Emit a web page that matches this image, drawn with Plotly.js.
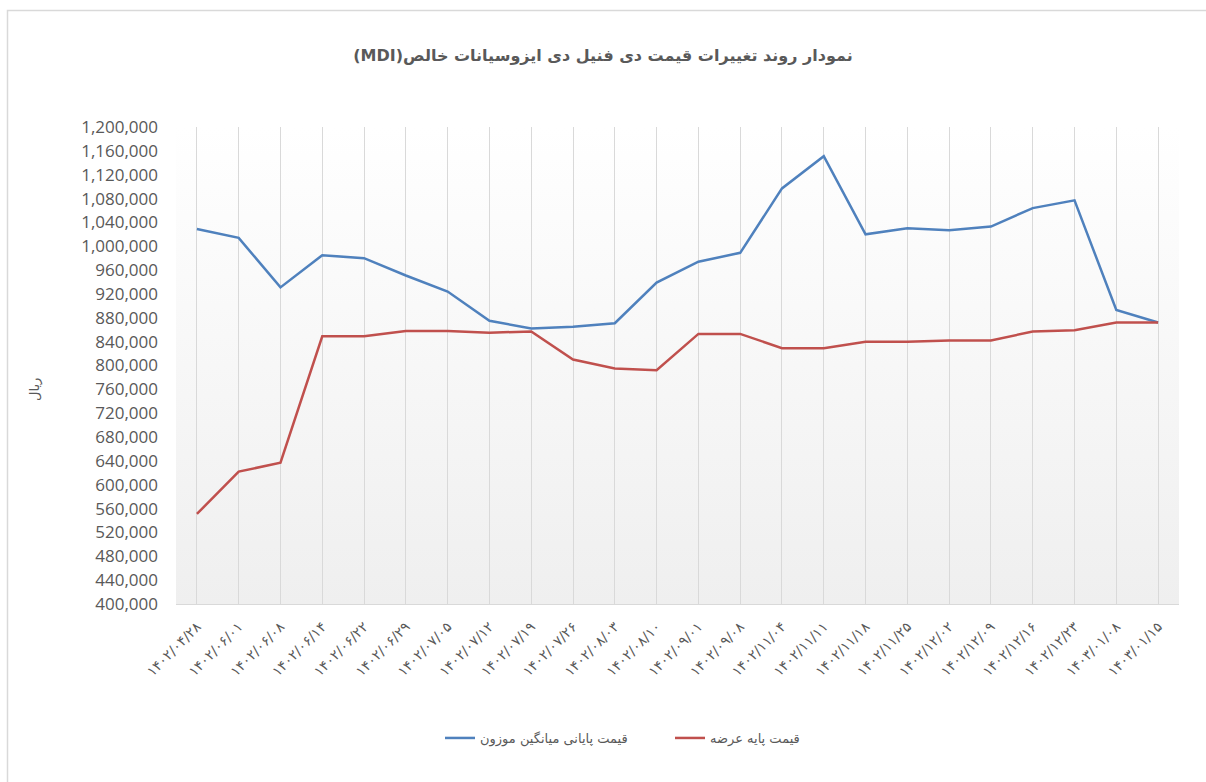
<!DOCTYPE html>
<html>
<head>
<meta charset="utf-8">
<script src="https://cdn.plot.ly/plotly-3.0.1.min.js"></script>
<style>
html,body{margin:0;padding:0;background:#fff;}
#chart{width:1206px;height:782px;}
</style>
</head>
<body>
<div id="chart"></div>
<script>
const dates = ['۱۴۰۲/۰۴/۲۸','۱۴۰۲/۰۶/۰۱','۱۴۰۲/۰۶/۰۸','۱۴۰۲/۰۶/۱۴','۱۴۰۲/۰۶/۲۲','۱۴۰۲/۰۶/۲۹','۱۴۰۲/۰۷/۰۵','۱۴۰۲/۰۷/۱۲','۱۴۰۲/۰۷/۱۹','۱۴۰۲/۰۷/۲۶','۱۴۰۲/۰۸/۰۳','۱۴۰۲/۰۸/۱۰','۱۴۰۲/۰۹/۰۱','۱۴۰۲/۰۹/۰۸','۱۴۰۲/۱۱/۰۴','۱۴۰۲/۱۱/۱۱','۱۴۰۲/۱۱/۱۸','۱۴۰۲/۱۱/۲۵','۱۴۰۲/۱۲/۰۲','۱۴۰۲/۱۲/۰۹','۱۴۰۲/۱۲/۱۶','۱۴۰۲/۱۲/۲۳','۱۴۰۳/۰۱/۰۸','۱۴۰۳/۰۱/۱۵'];

const weightedAvgPrice = [1029000, 1014000, 931000, 985000, 980000, 951000, 924000, 875000, 862000, 865000, 871000, 939000, 974000, 989000, 1097000, 1151000, 1020000, 1030000, 1027000, 1033000, 1064000, 1077000, 893000, 872000];

const basePrice = [551000, 622000, 637000, 849000, 849000, 858000, 858000, 855000, 857000, 810000, 795000, 792000, 853000, 853000, 829000, 829000, 840000, 840000, 842000, 842000, 857000, 859000, 872000, 872000];

const yTicks = [400000,440000,480000,520000,560000,600000,640000,680000,720000,760000,800000,840000,880000,920000,960000,1000000,1040000,1080000,1120000,1160000,1200000];

const seriesNames = ['قیمت پایانی میانگین موزون', 'قیمت پایه عرضه'];
const chartTitle = 'نمودار روند تغییرات قیمت دی فنیل دی ایزوسیانات خالص(MDI)';
const yAxisTitle = 'ریال';

const FONT = 'DejaVu Sans, Open Sans, sans-serif';
const GRAY = '#595959';
const RLE = '\u202B', PDF = '\u202C';

const gradSvg = '<svg xmlns="http://www.w3.org/2000/svg" width="10" height="100" preserveAspectRatio="none" viewBox="0 0 10 100"><defs><linearGradient id="g" x1="0" y1="0" x2="0" y2="1"><stop offset="0" stop-color="#ffffff"/><stop offset="1" stop-color="#efefef"/></linearGradient></defs><rect width="10" height="100" fill="url(#g)"/></svg>';
const gradSrc = 'data:image/svg+xml;charset=utf-8,' + encodeURIComponent(gradSvg);

const L = 176, R = 27, T = 127, B = 178;
const PW = 1206 - L - R, PH = 782 - T - B;
const px = v => (v - L) / PW;
const py = v => (782 - B - v) / PH;

const traces = [
  {
    x: dates, y: weightedAvgPrice, name: seriesNames[0], type: 'scatter', mode: 'lines',
    line: {color: '#4F81BD', width: 2.5}
  },
  {
    x: dates, y: basePrice, name: seriesNames[1], type: 'scatter', mode: 'lines',
    line: {color: '#C0504D', width: 2.5}
  }
];

const layout = {
  width: 1206, height: 782,
  margin: {l: L, r: R, t: T, b: B},
  paper_bgcolor: '#ffffff',
  plot_bgcolor: 'rgba(0,0,0,0)',
  font: {family: FONT, color: GRAY},
  title: {
    text: RLE + chartTitle + PDF,
    font: {family: FONT, size: 16, color: GRAY, weight: 'bold'},
    xref: 'container', x: 0.5, xanchor: 'center',
    yref: 'container', y: 1 - 55/782, yanchor: 'middle'
  },
  xaxis: {
    type: 'category',
    range: [-0.5, dates.length - 0.5],
    showgrid: true, gridcolor: '#d9d9d9', gridwidth: 1,
    showline: true, linecolor: '#d9d9d9', linewidth: 1,
    ticks: '', tickangle: -45, ticklabelstandoff: 8,
    tickfont: {family: FONT, size: 14, color: GRAY},
    zeroline: false, fixedrange: true
  },
  yaxis: {
    range: [400000, 1200000],
    tickvals: yTicks,
    tickformat: ',d',
    showgrid: false, zeroline: false, showline: false,
    ticks: '', ticklabelstandoff: 17,
    tickfont: {family: 'Open Sans, sans-serif', size: 17, color: GRAY},
    fixedrange: true
  },
  showlegend: true,
  legend: {
    orientation: 'h',
    x: px(440), xanchor: 'left',
    y: py(738), yanchor: 'middle',
    font: {family: FONT, size: 13, color: GRAY},
    bgcolor: 'rgba(0,0,0,0)',
    entrywidth: 185, entrywidthmode: 'pixels'
  },
  annotations: [
    {
      text: yAxisTitle, xref: 'paper', yref: 'paper',
      x: px(35), y: py(390), xanchor: 'center', yanchor: 'middle',
      textangle: -90, showarrow: false,
      font: {family: FONT, size: 13, color: GRAY}
    }
  ],
  images: [
    {
      source: gradSrc, xref: 'paper', yref: 'paper',
      x: 0, y: 1, sizex: 1, sizey: 1, sizing: 'stretch',
      xanchor: 'left', yanchor: 'top', layer: 'below'
    }
  ],
  shapes: [
    {
      type: 'rect', xref: 'paper', yref: 'paper',
      x0: px(7.5), x1: px(1212), y0: py(10.5), y1: py(800),
      line: {color: '#d9d9d9', width: 1.5}, fillcolor: 'rgba(0,0,0,0)', layer: 'below'
    }
  ]
};

Plotly.newPlot('chart', traces, layout, {displayModeBar: false, staticPlot: true});
</script>
</body>
</html>
